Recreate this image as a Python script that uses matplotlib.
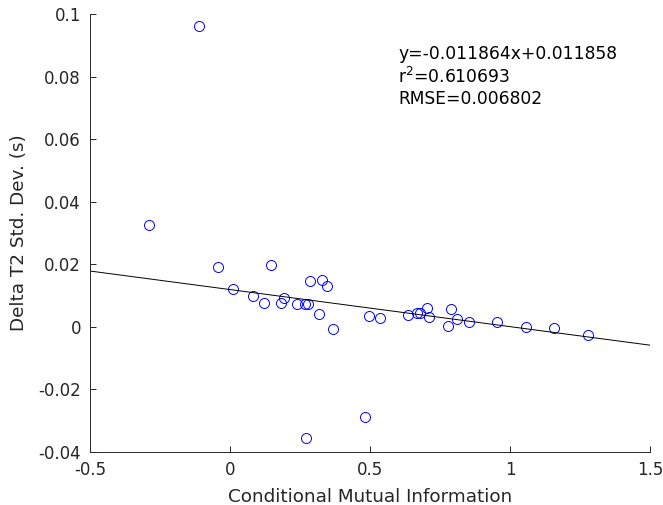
import matplotlib
matplotlib.use("Agg")
import matplotlib.pyplot as plt
import numpy as np

plt.rcParams['font.family'] = ['DejaVu Sans']
plt.rcParams['axes.unicode_minus'] = False

# Conditional mutual information vs. delta T2 standard deviation
cmi = [-0.110, -0.288, -0.042, 0.145, 0.011, 0.083, 0.122, 0.182, 0.192,
       0.238, 0.268, 0.277, 0.285, 0.329, 0.346, 0.318, 0.367, 0.495, 0.535,
       0.636, 0.666, 0.678, 0.703, 0.711, 0.789, 0.779, 0.809, 0.854, 0.952,
       1.056, 1.155, 1.279, 0.271, 0.483]
dt2_std = [0.0962, 0.0326, 0.0191, 0.0197, 0.0119, 0.0099, 0.0075, 0.0076,
           0.0091, 0.0071, 0.0071, 0.0071, 0.0147, 0.0149, 0.0131, 0.0039,
           -0.0008, 0.0033, 0.0027, 0.0038, 0.0043, 0.0043, 0.0059, 0.0031,
           0.0055, 0.0003, 0.0024, 0.0015, 0.0014, -0.0002, -0.0005, -0.0028,
           -0.0355, -0.0290]

# Linear fit statistics
slope = -0.011864
intercept = 0.011858
r2 = 0.610693
rmse = 0.006802

x_ticks = [-0.5, 0, 0.5, 1, 1.5]
x_tick_labels = ['-0.5', '0', '0.5', '1', '1.5']
y_ticks = [-0.04, -0.02, 0, 0.02, 0.04, 0.06, 0.08, 0.1]
y_tick_labels = ['-0.04', '-0.02', '0', '0.02', '0.04', '0.06', '0.08', '0.1']

fig = plt.figure(figsize=(6.63, 5.05), dpi=100)
ax = fig.add_axes([90 / 663, 1 - 451.7 / 505, (650.3 - 90) / 663, (451.7 - 14) / 505])

ax.plot(cmi, dt2_std, linestyle='none', marker='o', markersize=7.2,
        markerfacecolor='none', markeredgecolor=(0, 0, 1), markeredgewidth=0.7)

xf = np.array([x_ticks[0], x_ticks[-1]])
ax.plot(xf, slope * xf + intercept, color='black', linewidth=0.7)

ax.text(0.6, 0.08,
        f'y={slope:.6f}x+{intercept:.6f}\nr$^2$={r2:.6f}\nRMSE={rmse:.6f}',
        fontsize=12.3, va='center', ha='left', linespacing=1.2, color='black')

ax.set_xlim(-0.5, 1.5)
ax.set_ylim(-0.04, 0.1)
ax.set_xticks(x_ticks)
ax.set_xticklabels(x_tick_labels)
ax.set_yticks(y_ticks)
ax.set_yticklabels(y_tick_labels)

for side in ('top', 'right'):
    ax.spines[side].set_visible(False)
for side in ('left', 'bottom'):
    ax.spines[side].set_color('#262626')
    ax.spines[side].set_linewidth(0.7)

ax.tick_params(direction='in', length=4, width=0.7, colors='#262626',
               labelsize=12, labelcolor='#262626')
ax.tick_params(axis='x', pad=7)
ax.tick_params(axis='y', pad=6.5)

ax.set_xlabel('Conditional Mutual Information', fontsize=13.2, color='#262626', labelpad=6)
ax.set_ylabel('Delta T2 Std. Dev. (s)', fontsize=13.2, color='#262626', labelpad=7)

fig.savefig('out.png', dpi=100)
